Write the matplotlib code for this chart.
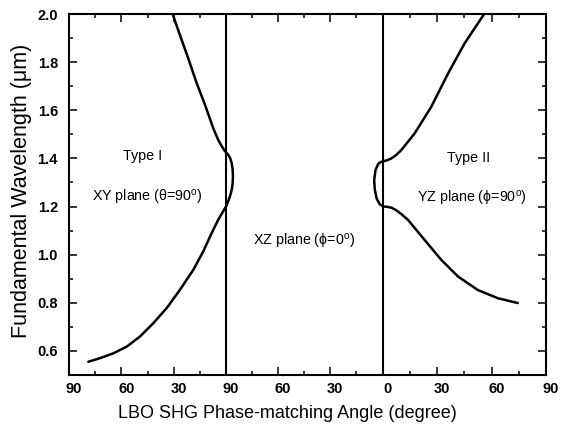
import numpy as np
import matplotlib
matplotlib.use("Agg")
import matplotlib.pyplot as plt
from matplotlib.transforms import ScaledTranslation
from matplotlib.ticker import FixedLocator

plt.rcParams['font.family'] = ['Liberation Sans', 'DejaVu Sans']
plt.rcParams['mathtext.fontset'] = 'custom'
plt.rcParams['mathtext.rm'] = 'Liberation Sans'

# ---- data (continuous angle coordinate: XY 0-90, XZ 90-180, YZ 180-270) ----
xy_low_x = [11.1, 17.8, 25.4, 33.1, 40.7, 48.3, 56.0, 63.6, 71.3, 77.0, 81.8, 85.6, 88.2, 90.0]
xy_low_y = [0.555, 0.570, 0.590, 0.618, 0.660, 0.715, 0.778, 0.854, 0.9375, 1.014, 1.090, 1.146, 1.178, 1.200]

xy_up_x = [59.4, 63.6, 68.4, 73.2, 78.0, 82.7, 85.6, 87.6, 89.0, 90.0]
xy_up_y = [2.0, 1.9125, 1.8146, 1.7125, 1.6221, 1.525, 1.476, 1.450, 1.434, 1.425]

xy_loop_x = [91.2, 92.4, 93.3, 93.8, 94.0, 93.8, 93.3, 92.4, 91.3]
xy_loop_y = [1.416, 1.401, 1.380, 1.355, 1.326, 1.295, 1.270, 1.245, 1.222]

yz_up_x = [180.4, 182.5, 184.9, 187.5, 190.4, 197.7, 206.9, 216.1, 225.2, 232.5, 236.0]
yz_up_y = [1.388, 1.392, 1.400, 1.414, 1.435, 1.504, 1.615, 1.753, 1.878, 1.961, 2.0]

yz_low_x = [180.4, 182.5, 185.0, 187.5, 190.5, 194.1, 203.2, 212.4, 221.6, 232.5, 243.5, 254.5]
yz_low_y = [1.200, 1.199, 1.195, 1.185, 1.168, 1.144, 1.061, 0.978, 0.909, 0.853, 0.819, 0.799]

yz_loop_x = [179.0, 177.5, 176.0, 175.2, 175.6, 176.6, 178.4]
yz_loop_y = [1.385, 1.377, 1.352, 1.310, 1.269, 1.234, 1.210]

plane_bounds = [90, 180]

xtick_pos = [0, 30, 60, 90, 120, 150, 180, 210, 240, 270]
xtick_labels = ['90', '60', '30', '90', '60', '30', '0', '30', '60', '90']
xminor_pos = [15, 45, 75, 105, 135, 165, 195, 225, 255]

ytick_pos = [0.6, 0.8, 1.0, 1.2, 1.4, 1.6, 1.8, 2.0]
ytick_labels = ['0.6', '0.8', '1.0', '1.2', '1.4', '1.6', '1.8', '2.0']
yminor_pos = [0.5, 0.7, 0.9, 1.1, 1.3, 1.5, 1.7, 1.9]

# piecewise scale so each plane section has its own width
seg_data = [0, 90, 180, 270]
seg_disp = [0, 157, 313.5, 477]

def fwd(x):
    return np.interp(x, seg_data, seg_disp)

def inv(x):
    return np.interp(x, seg_disp, seg_data)

fig = plt.figure(figsize=(5.64, 4.29), dpi=100)
ax = fig.add_axes([69/564, 1-375/429, 477/564, 361/429])
ax.set_xscale('function', functions=(fwd, inv))
ax.set_xlim(0, 270)
ax.set_ylim(0.5, 2.0)

kw = dict(color='black', lw=1.8, solid_capstyle='round', solid_joinstyle='round')
# XY plane: upper branch -> loop -> lower branch as one continuous trace
ax.plot(xy_up_x + xy_loop_x + xy_low_x[::-1], xy_up_y + xy_loop_y + xy_low_y[::-1], **kw)
# YZ plane: upper branch (reversed) -> loop -> lower branch
ax.plot(yz_up_x[::-1] + yz_loop_x + yz_low_x, yz_up_y[::-1] + yz_loop_y + yz_low_y, **kw)
for b in plane_bounds:
    ax.axvline(b, color='black', lw=1.5)

for s in ax.spines.values():
    s.set_linewidth(1.5)

ax.xaxis.set_major_locator(FixedLocator(xtick_pos))
ax.xaxis.set_minor_locator(FixedLocator(xminor_pos))
ax.set_xticklabels(xtick_labels)
ax.yaxis.set_major_locator(FixedLocator(ytick_pos))
ax.yaxis.set_minor_locator(FixedLocator(yminor_pos))
ax.set_yticklabels(ytick_labels)

ax.tick_params(which='both', direction='in', top=True, right=True, width=1.1)
ax.tick_params(which='major', length=5.5)
ax.tick_params(which='minor', length=3)
ax.tick_params(axis='x', pad=5)
ax.tick_params(axis='y', pad=8)

for lab in ax.get_xticklabels():
    lab.set_fontsize(10.5)
    lab.set_fontweight('bold')
    lab.set_transform(lab.get_transform() + ScaledTranslation(5/100, 0, fig.dpi_scale_trans))
for lab in ax.get_yticklabels():
    lab.set_fontsize(10.5)
    lab.set_fontweight('bold')

ax.set_xlabel('LBO SHG Phase-matching Angle (degree)', fontsize=13)
ax.xaxis.set_label_coords(0.457, -0.083)
ax.set_ylabel('Fundamental Wavelength (\u03bcm)', fontsize=15.5)
ax.yaxis.set_label_coords(-0.077, 0.51)

tk = dict(fontsize=10.3, ha='center', va='center')
ax.text(42, 1.408, 'Type I', **tk)
ax.text(45, 1.2375, 'XY plane (\u03b8=90$^{\\mathregular{o}}$)', **tk)
ax.text(134.7, 1.055, 'XZ plane (\u03d5=0$^{\\mathregular{o}}$)', **tk)
ax.text(227.2, 1.40, 'Type II', **tk)
ax.text(229.5, 1.234, 'YZ plane (\u03d5=90$^{\\mathregular{o}}$)', **tk)

fig.savefig('out.png', dpi=100)
